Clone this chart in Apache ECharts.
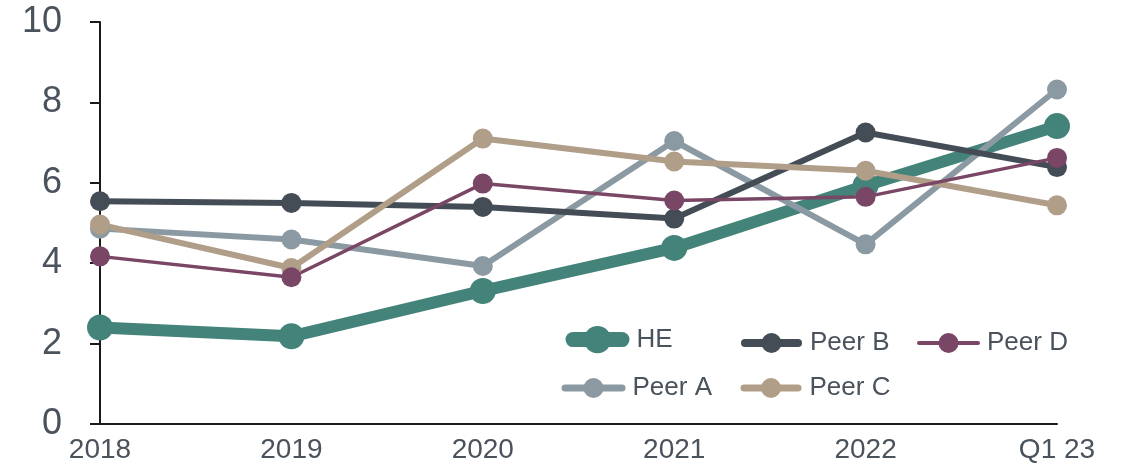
<!DOCTYPE html>
<html>
<head>
<meta charset="utf-8">
<script src="https://cdn.jsdelivr.net/npm/echarts@6/dist/echarts.min.js"></script>
<style>html,body{margin:0;padding:0;background:#fff}#c{width:1127px;height:464px}</style>
</head>
<body>
<div id="c"></div>
<script>
const categories = ['2018', '2019', '2020', '2021', '2022', 'Q1 23'];
const yTicks = [0, 2, 4, 6, 8, 10];
const seriesNames = ['HE', 'Peer A', 'Peer B', 'Peer C', 'Peer D'];
const heValues    = [2.40, 2.18, 3.31, 4.38, 5.93, 7.41];
const peerAValues = [4.86, 4.59, 3.93, 7.04, 4.47, 8.32];
const peerBValues = [5.54, 5.50, 5.40, 5.11, 7.25, 6.39];
const peerCValues = [4.96, 3.88, 7.10, 6.53, 6.30, 5.44];
const peerDValues = [4.17, 3.65, 5.98, 5.56, 5.65, 6.62];

const FONT = '"Liberation Sans", Arial, sans-serif';
const TEXT = '#4a525c';
const colors = {HE:'#44837a','Peer A':'#8b99a2','Peer B':'#444c55','Peer C':'#b09e89','Peer D':'#7a4665'};
const lineW = {HE:12,'Peer A':6,'Peer B':6,'Peer C':6,'Peer D':3.5};
const symS = {HE:26,'Peer A':20,'Peer B':20,'Peer C':20,'Peer D':20};
const values = {HE:heValues,'Peer A':peerAValues,'Peer B':peerBValues,'Peer C':peerCValues,'Peer D':peerDValues};

const legendSpec = [
  {name:'HE',     left:565.5, top:326, w:49, h:34, lw:15, pad:9.5},
  {name:'Peer B', left:741,   top:330, w:53, h:25, lw:8,  pad:7},
  {name:'Peer D', left:917,   top:330, w:59, h:25, lw:4,  pad:4},
  {name:'Peer A', left:561.5, top:375, w:57, h:25, lw:7,  pad:5.5},
  {name:'Peer C', left:740.5, top:375, w:54, h:25, lw:7,  pad:6.5}
];

const chart = echarts.init(document.getElementById('c'), null, {renderer:'canvas'});
chart.setOption({
  animation:false,
  backgroundColor:'#ffffff',
  textStyle:{fontFamily:FONT},
  grid:{left:100, right:70, top:22, bottom:37, containLabel:false},
  xAxis:{
    type:'category', data:categories, boundaryGap:false,
    axisLine:{show:true, lineStyle:{color:'#1a1a1a', width:2}},
    axisTick:{show:false},
    axisLabel:{fontSize:28, color:TEXT, margin:12, fontFamily:FONT},
    splitLine:{show:false}
  },
  yAxis:{
    type:'value', min:yTicks[0], max:yTicks[yTicks.length-1], interval:2,
    axisLine:{show:true, lineStyle:{color:'#1a1a1a', width:2}},
    axisTick:{show:true, length:10, lineStyle:{color:'#1a1a1a', width:2}},
    axisLabel:{fontSize:36, color:TEXT, margin:38, fontFamily:FONT},
    splitLine:{show:false}
  },
  legend: legendSpec.map(l => ({
    data:[l.name], left:l.left, top:l.top, orient:'horizontal',
    itemWidth:l.w, itemHeight:l.h, padding:0,
    lineStyle:{width:l.lw, cap:'round'},
    textStyle:{fontSize:26, color:TEXT, fontFamily:FONT, padding:[0,0,0,l.pad]},
    selectedMode:false
  })),
  series: seriesNames.map(n => ({
    name:n, type:'line', data:values[n],
    symbol:'circle', symbolSize:symS[n], showSymbol:true,
    lineStyle:{color:colors[n], width:lineW[n], cap:'round', join:'round'},
    itemStyle:{color:colors[n]},
    emphasis:{disabled:true}
  }))
});
</script>
</body>
</html>
